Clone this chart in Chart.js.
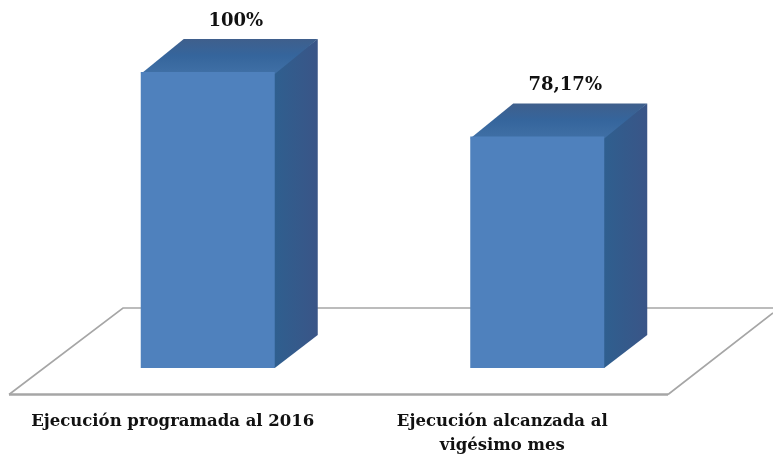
<!DOCTYPE html>
<html>
<head>
<meta charset="utf-8">
<style>html,body{margin:0;padding:0;background:#fff}#w{width:773px;height:454px;position:relative}</style>
<script src="https://cdn.jsdelivr.net/npm/chart.js@4"></script>
</head>
<body>
<div id="w"><canvas id="c" width="773" height="454"></canvas></div>
<script>
const categories = [["Ejecución programada al 2016"], ["Ejecución alcanzada al", "vigésimo mes"]];
const values = [100, 78.17];
const valueLabels = ["100%", "78,17%"];

const DX = 43, DY = 33;
const FONT = 'bold 18px "DejaVu Serif"';

const box3d = {
  id: 'box3d',
  beforeDatasetsDraw(chart) {
    const { ctx, chartArea: a } = chart;
    const base = a.bottom;
    ctx.save();
    // floor
    ctx.beginPath();
    ctx.moveTo(a.left - 34, base + 26.5);
    ctx.lineTo(a.left + 80, base - 60);
    ctx.lineTo(773, base - 60);
    ctx.moveTo(a.right + 71, base - 55);
    ctx.lineTo(a.right - 34, base + 26.5);
    ctx.strokeStyle = '#a6a6a6';
    ctx.lineWidth = 1.6;
    ctx.stroke();
    ctx.beginPath();
    ctx.moveTo(a.left - 34, base + 26.5);
    ctx.lineTo(a.right - 34, base + 26.5);
    ctx.lineWidth = 2.4;
    ctx.stroke();
    // sides and tops
    chart.getDatasetMeta(0).data.forEach(b => {
      const l = b.x - b.width / 2, r = b.x + b.width / 2, t = b.y;
      let g = ctx.createLinearGradient(r, 0, r + DX, 0);
      g.addColorStop(0, '#2f5f8f');
      g.addColorStop(1, '#3a5587');
      ctx.fillStyle = g;
      ctx.beginPath();
      ctx.moveTo(r - 2, t); ctx.lineTo(r + DX, t - DY); ctx.lineTo(r + DX, base - DY); ctx.lineTo(r, base); ctx.lineTo(r - 2, base);
      ctx.closePath(); ctx.fill();
      g = ctx.createLinearGradient(0, t - DY, 0, t);
      g.addColorStop(0, '#3f5f8c');
      g.addColorStop(0.5, '#35659c');
      g.addColorStop(1, '#3f6fa5');
      ctx.fillStyle = g;
      ctx.beginPath();
      ctx.moveTo(l, t + 2); ctx.lineTo(l + DX, t - DY); ctx.lineTo(r + DX, t - DY); ctx.lineTo(r, t + 2);
      ctx.closePath(); ctx.fill();
    });
    ctx.restore();
  },
  afterDatasetsDraw(chart) {
    const { ctx } = chart;
    ctx.save();
    ctx.font = FONT;
    ctx.fillStyle = '#111';
    ctx.textAlign = 'center';
    ctx.textBaseline = 'middle';
    chart.getDatasetMeta(0).data.forEach((b, i) => {
      ctx.fillText(valueLabels[i], b.x + 28, b.y - 51);
    });
    ctx.restore();
  }
};

new Chart(document.getElementById('c'), {
  type: 'bar',
  data: {
    labels: categories,
    datasets: [{
      data: values,
      backgroundColor: '#4f81bd',
      borderWidth: 0,
      barPercentage: 1,
      categoryPercentage: 0.4067
    }]
  },
  options: {
    responsive: false,
    animation: false,
    layout: { padding: { left: 43, right: 71, top: 72, bottom: 0 } },
    plugins: { legend: { display: false }, tooltip: { enabled: false } },
    scales: {
      y: { min: 0, max: 100, display: false },
      x: {
        grid: { display: false, drawTicks: false },
        border: { display: false },
        afterFit(s) { s.height = 86; },
        ticks: {
          maxRotation: 0, minRotation: 0, autoSkip: false,
          color: '#111', padding: 41, labelOffset: -35,
          font: { family: '"DejaVu Serif"', weight: 'bold', size: 16.5, lineHeight: 1.5 }
        }
      }
    }
  },
  plugins: [box3d]
});
</script>
</body>
</html>
